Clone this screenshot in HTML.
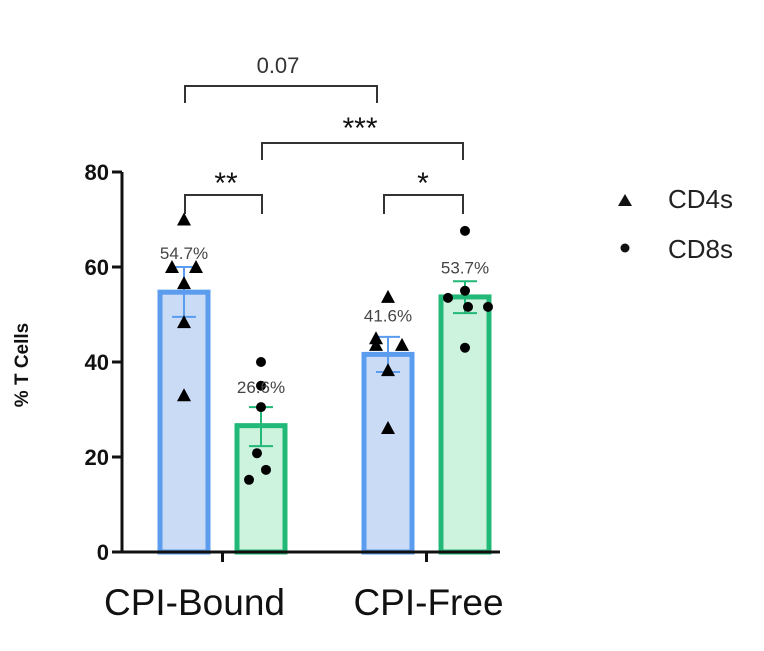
<!DOCTYPE html>
<html><head><meta charset="utf-8"><style>
body{margin:0;background:#fff;width:764px;height:646px;overflow:hidden}
svg{font-family:"Liberation Sans",Arial,sans-serif}
</style></head><body>
<svg id="chart" width="764" height="646">
<g id="brackets" fill="none" stroke="#333" stroke-width="2">
<path d="M185 103 V86 H377 V103"/>
<path d="M262 160 V143 H463 V160"/>
<path d="M185 214 V195 H262 V214"/>
<path d="M384 214 V195 H463 V214"/>
</g>
<text x="278" y="73" font-size="22" text-anchor="middle" fill="#333">0.07</text>
<text x="360" y="138" font-size="30" text-anchor="middle" fill="#111">***</text>
<text x="226" y="193" font-size="30" text-anchor="middle" fill="#111">**</text>
<text x="423" y="193" font-size="30" text-anchor="middle" fill="#111">*</text>
<g id="plot"></g>
<g>
<path d="M618 206 L625 194 L632 206 Z" fill="#111"/>
<text x="668" y="208" font-size="26" fill="#222">CD4s</text>
<circle cx="625" cy="248" r="4.5" fill="#111"/>
<text x="668" y="258" font-size="26" fill="#222">CD8s</text>
</g>
<text transform="translate(28,365) rotate(-90)" font-size="19" font-weight="bold" text-anchor="middle" fill="#111">% T Cells</text>
</svg>
<script>
const categories=["CPI-Bound","CPI-Free"];
const cd4Means=[54.7,41.6];
const cd8Means=[26.6,53.7];
const cd4Err=[[49.5,60],[37.9,45.3]];
const cd8Err=[[22.3,30.5],[50.3,57]];
const cd4Points=[[70,60,60,56.6,48.4,33],[53.7,45,43.6,43.6,38.3,26.1]];
const cd8Points=[[40,35,30.5,20.8,17.3,15.2],[67.6,55,53.5,51.6,51.6,43]];
const yTicks=[0,20,40,60,80];
const ns="http://www.w3.org/2000/svg";
const g=document.getElementById('plot');
const y0=552,y80=172,axX=122;
function y(v){return y0-(v/80)*(y0-y80);}
const groupX=[160,364],barW=48,gap=77;
function mk(t,a){const e=document.createElementNS(ns,t);for(const k in a)e.setAttribute(k,a[k]);g.appendChild(e);return e;}
function bar(x,mean,err,pts,fill,stroke,tri,label,idx,kind){
 let b=mk('rect',{x:x,y:y(mean),width:barW,height:y0-y(mean),fill:fill,stroke:stroke,'stroke-width':5});
 
 
 const cx=x+barW/2;
 let e=mk('path',{d:`M${cx} ${y(err[0])} V${y(err[1])} M${cx-12} ${y(err[0])} H${cx+12} M${cx-12} ${y(err[1])} H${cx+12}`,stroke:stroke,'stroke-width':2,fill:'none'});
 
 
 const offs=[0,-12,12,0,0,0];
 pts.forEach((v,i)=>{
  let dx=offs[i];
  if(kind==='cd8'){dx=[0,0,0,-4,5,-12][i];if(idx===1)dx=[0,0,-17,3,23,0][i];}
  if(kind==='cd4'&&idx===1)dx=[0,-12,-12,14,0,0][i];
  const px=cx+dx,py=y(v);
  let m;
  if(tri)m=mk('path',{d:`M${px-7} ${py+6} L${px} ${py-7} L${px+7} ${py+6} Z`,fill:'#000'});
  else m=mk('circle',{cx:px,cy:py,r:5,fill:'#000'});
  
  
 });
 let ly=[[y(62.5)+4,y(48.5)],[y(33.5),y(59.5)+4]][kind==='cd4'?0:1][idx];
 let t=mk('text',{x:cx,y:ly,'font-size':17,'text-anchor':'middle',fill:'#444'});
 t.textContent=label;
 
 
}
categories.forEach((c,i)=>{
 bar(groupX[i],cd4Means[i],cd4Err[i],cd4Points[i],'#c9dbf5','#5b9cef',true,cd4Means[i].toFixed(1)+'%',i,'cd4');
 bar(groupX[i]+gap,cd8Means[i],cd8Err[i],cd8Points[i],'#cdf3df','#22b877',false,cd8Means[i].toFixed(1)+'%',i,'cd8');
 const cx=groupX[i]+(gap+barW)/2;
 let tk=mk('line',{x1:cx,x2:cx,y1:y0,y2:y0+10,stroke:'#111','stroke-width':3});
 
 
 let t=mk('text',{x:cx-28+i*30,y:615,'font-size':37,'text-anchor':'middle',fill:'#111'});
 t.textContent=c;
 
 
});
let ax=mk('path',{d:`M${axX} ${y80} V${y0} H500`,stroke:'#111','stroke-width':3,fill:'none'});


yTicks.forEach(v=>{
 let l=mk('line',{x1:axX-10,x2:axX,y1:y(v),y2:y(v),stroke:'#111','stroke-width':3});
 
 
 let t=mk('text',{x:axX-13,y:y(v)+8,'font-size':22,'font-weight':'bold','text-anchor':'end',fill:'#111'});
 t.textContent=v;
 
 
});
</script>
</body></html>
